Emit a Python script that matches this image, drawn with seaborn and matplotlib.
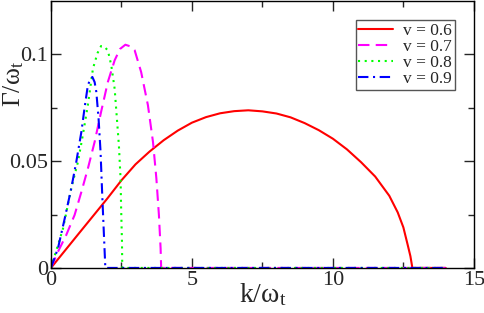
import numpy as np
import matplotlib
matplotlib.use("Agg")
import matplotlib.pyplot as plt
import seaborn as sns

# values (k/omega_t, Gamma/omega_t)
k_06 = [0, 1, 2, 2.5, 3, 3.5, 4, 4.5, 5, 5.5, 6, 6.5, 7, 7.5, 8, 8.5, 9, 9.5, 10, 10.5,
        11, 11.5, 12, 12.3, 12.5, 12.65, 12.75, 12.82, 13, 14]
g_06 = [0, 0.0163, 0.0325, 0.0410, 0.0485, 0.0545, 0.0598, 0.0643, 0.0680, 0.0706, 0.0724,
        0.0734, 0.0738, 0.0733, 0.0723, 0.0705, 0.0678, 0.0645, 0.0605, 0.0555, 0.0495,
        0.0428, 0.0338, 0.0260, 0.0190, 0.0110, 0.0055, 0, 0, 0]

k_07 = [0, 0.25, 0.54, 0.84, 1.08, 1.31, 1.55, 1.78, 2.02, 2.26, 2.45, 2.64, 2.8, 2.97,
        3.2, 3.44, 3.62, 3.74, 3.83, 3.89, 3.91, 14]
g_07 = [0, 0.0076, 0.0153, 0.0248, 0.0356, 0.0465, 0.0590, 0.0731, 0.0871, 0.0972, 0.1025,
        0.1045, 0.1038, 0.1019, 0.0917, 0.0762, 0.0590, 0.0419, 0.0248, 0.0092, 0, 0]

k_08 = [0, 0.25, 0.43, 0.72, 0.96, 1.13, 1.31, 1.49, 1.65, 1.78, 1.9, 2.02, 2.14, 2.26,
        2.34, 2.41, 2.47, 2.49, 2.52, 2.53, 14]
g_08 = [0, 0.0107, 0.0185, 0.0372, 0.0497, 0.0621, 0.0762, 0.0933, 0.1005, 0.1039, 0.1035,
        0.1018, 0.0949, 0.0839, 0.0699, 0.0575, 0.0419, 0.0278, 0.0123, 0, 0]

k_09 = [0, 0.25, 0.49, 0.72, 0.90, 1.08, 1.19, 1.31, 1.40, 1.47, 1.55, 1.61, 1.69, 1.76,
        1.82, 1.88, 1.93, 14]
g_09 = [0, 0.0092, 0.0232, 0.0372, 0.0497, 0.0637, 0.0746, 0.0855, 0.0885, 0.0894, 0.0870,
        0.0824, 0.0699, 0.0544, 0.0341, 0.0154, 0, 0]

labels = ['v = 0.6', 'v = 0.7', 'v = 0.8', 'v = 0.9']
colors = ['#ff0000', '#ff00ff', '#00ff00', '#0000ff']
styles = ['-', (0, (5.5, 3)), (0, (1, 2.2)), (0, (5, 2.2, 1, 2.2))]

sns.set_style('ticks')
plt.rcParams['font.family'] = ['Liberation Serif', 'DejaVu Serif']
plt.rcParams['mathtext.fontset'] = 'custom'
plt.rcParams['mathtext.rm'] = 'Liberation Serif'
plt.rcParams['mathtext.it'] = 'Liberation Serif'

fig = plt.figure(figsize=(4.85, 3.13), dpi=100)
ax = fig.add_axes([0.105, 0.144, 0.872, 0.853])

series = [(k_06, g_06), (k_07, g_07), (k_08, g_08), (k_09, g_09)]
for (k, g), lab, c, ls in zip(series, labels, colors, styles):
    sns.lineplot(x=k, y=g, ax=ax, color=c, linestyle=ls, linewidth=1.5,
                 label=lab, sort=False)

ax.set_xlim(0, 15)
ax.set_ylim(0, 0.125)
ax.set_xticks([0, 5, 10, 15])
ax.set_xticklabels(['0', '5', '10', '15'])
ax.set_xticks([2.5, 7.5, 12.5], minor=True)
ax.set_yticks([0, 0.05, 0.1])
ax.set_yticklabels(['0', '0.05', '0.1'])
ax.set_yticks([0.025, 0.075], minor=True)
ax.tick_params(which='both', direction='in', top=True, right=True, labelsize=16, pad=2)
ax.tick_params(which='major', length=7, width=1)
ax.tick_params(which='minor', length=4, width=1)
for sp in ax.spines.values():
    sp.set_linewidth(1)
    sp.set_color('black')

ax.set_xlabel(r'$\mathregular{k/\omega_t}$', fontsize=20)
ax.set_ylabel(r'$\mathregular{\Gamma/\omega_t}$', fontsize=18.5)
ax.xaxis.set_label_coords(0.5, -0.05)
ax.yaxis.set_label_coords(-0.058, 0.69)

leg = ax.legend(loc='upper right', bbox_to_anchor=(0.955, 0.929), fontsize=12.5,
                frameon=True, fancybox=False, edgecolor='#555555', framealpha=1,
                handlelength=2.0, handletextpad=0.6, borderpad=0.15, labelspacing=0.0,
                borderaxespad=0)
leg.get_frame().set_linewidth(1)

fig.savefig('out.png', dpi=100)
